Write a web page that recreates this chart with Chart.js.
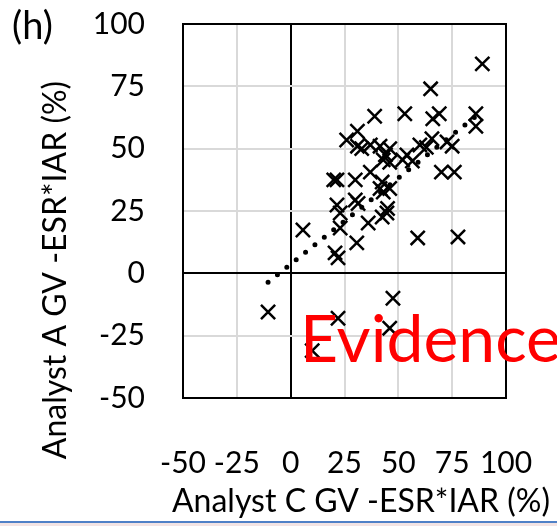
<!DOCTYPE html>
<html>
<head>
<meta charset="utf-8">
<script src="https://cdn.jsdelivr.net/npm/chart.js@4.4.1/dist/chart.umd.min.js"></script>
<style>
  html, body { margin: 0; padding: 0; background: #fff; }
  #wrap { width: 557px; height: 526px; position: relative; }
</style>
</head>
<body>
<div id="wrap"><canvas id="myChart" width="557" height="526"></canvas></div>
<script>
// Analyst C (x) vs Analyst A (y), GV - ESR*IAR in %
const analystC = [
  89, 65, 53, 39, 31, 69, 66, 86, 86, 26,
  33, 31, 37, 41.5, 44, 46, 54, 56.5, 52, 43,
  46, 60, 63, 65.6, 72.6, 75, 70, 76, 20, 21.5,
  30, 37, 42.5, 43, 46, 21.5, 30, 31.3, 23, 36,
  44.7, 42.5, 23, 30.7, 20.6, 22, 59, 77.7, 5.7, -10.5,
  22, 47.5, 46, 10, 41.5, 45
];
const analystA = [
  84, 74, 64, 63, 57, 64, 62, 64, 59, 53.5,
  50, 51, 51.5, 51, 47.5, 50, 47.5, 45, 45.5, 45.5,
  44.5, 51.5, 50.5, 54, 52.7, 51, 40.6, 40.6, 37.5, 37.5,
  37.5, 40.6, 36.6, 32.6, 34, 27.4, 29.4, 28, 24.2, 20.2,
  24.2, 22.6, 18.2, 12.2, 8.2, 6.2, 14.2, 14.6, 17.4, -15.5,
  -18, -10, -22, -31, 34, 26
];

// linear trendline (Excel style), spanning the x range of the data
const trendSlope = 0.69;
const trendIntercept = 3.7;
const trendX = [-10.5, 89];

const tickValues = [-50, -25, 0, 25, 50, 75, 100];

const FONT = "Lato, 'Open Sans', sans-serif";

const points = analystC.map((x, i) => ({ x: x, y: analystA[i] }));
const trend = trendX.map((x) => ({ x: x, y: trendSlope * x + trendIntercept }));

const frame = {
  id: "frame",
  afterDraw(chart) {
    const ctx = chart.ctx;
    const a = chart.chartArea;
    ctx.save();
    ctx.strokeStyle = "#000";
    ctx.lineWidth = 2;
    ctx.strokeRect(a.left, a.top, a.right - a.left, a.bottom - a.top);

    ctx.fillStyle = "#000";
    ctx.font = "38px " + FONT;
    ctx.textAlign = "left";
    ctx.textBaseline = "middle";
    ctx.fillText("(h)", 12, 27);

    ctx.font = "32px " + FONT;
    ctx.textAlign = "center";
    ctx.fillText("Analyst C GV -ESR*IAR (%)", 361, 502);

    ctx.translate(56, 270);
    ctx.rotate(-Math.PI / 2);
    ctx.fillText("Analyst A GV -ESR*IAR (%)", 0, 0);
    ctx.restore();

    ctx.save();
    ctx.fillStyle = "#ff0000";
    ctx.font = "66px " + FONT;
    ctx.textAlign = "left";
    ctx.textBaseline = "alphabetic";
    ctx.fillText("Evidence", 300, 362);

    ctx.fillStyle = "#f3e4e4";
    ctx.fillRect(0, 523, 557, 3);
    ctx.fillStyle = "#4f81c7";
    ctx.fillRect(0, 521, 557, 2);
    ctx.restore();
  },
};

const gridColor = (c) =>
  [-50, 0, 100].includes(c.tick.value) ? "#000" : "#d9d9d9";

// keep the plot box fixed: no extra room for overhanging edge labels
const noPad = (s) => {
  s.paddingTop = 0;
  s.paddingBottom = 0;
  s.paddingLeft = 0;
  s.paddingRight = 0;
};

new Chart(document.getElementById("myChart"), {
  type: "scatter",
  plugins: [frame],
  data: {
    datasets: [
      {
        data: points,
        pointStyle: "crossRot",
        pointRadius: 10,
        pointHoverRadius: 10,
        borderColor: "#000",
        pointBorderWidth: 2.5,
        order: 2,
      },
      {
        type: "line",
        data: trend,
        borderColor: "#000",
        borderWidth: 5,
        borderDash: [0, 12],
        borderCapStyle: "round",
        pointRadius: 0,
        fill: false,
        order: 1,
      },
    ],
  },
  options: {
    responsive: false,
    animation: false,
    events: [],
    layout: { padding: { left: 0, right: 51, top: 24, bottom: 0 } },
    plugins: {
      legend: { display: false },
      tooltip: { enabled: false },
    },
    scales: {
      x: {
        type: "linear",
        min: -50,
        max: 100,
        afterBuildTicks: (s) => {
          s.ticks = tickValues.map((v) => ({ value: v }));
        },
        afterFit: (s) => {
          s.height = 128;
          noPad(s);
        },
        grid: { color: gridColor, lineWidth: 2, drawTicks: false },
        border: { display: false },
        ticks: {
          padding: 47,
          color: "#000",
          maxRotation: 0,
          autoSkip: false,
          font: { family: FONT, size: 30 },
        },
      },
      y: {
        type: "linear",
        min: -50,
        max: 100,
        afterBuildTicks: (s) => {
          s.ticks = tickValues.map((v) => ({ value: v }));
        },
        afterFit: (s) => {
          s.width = 183;
          noPad(s);
        },
        grid: { color: gridColor, lineWidth: 2, drawTicks: false },
        border: { display: false },
        ticks: {
          padding: 38,
          color: "#000",
          font: { family: FONT, size: 30 },
        },
      },
    },
  },
});
</script>
</body>
</html>
